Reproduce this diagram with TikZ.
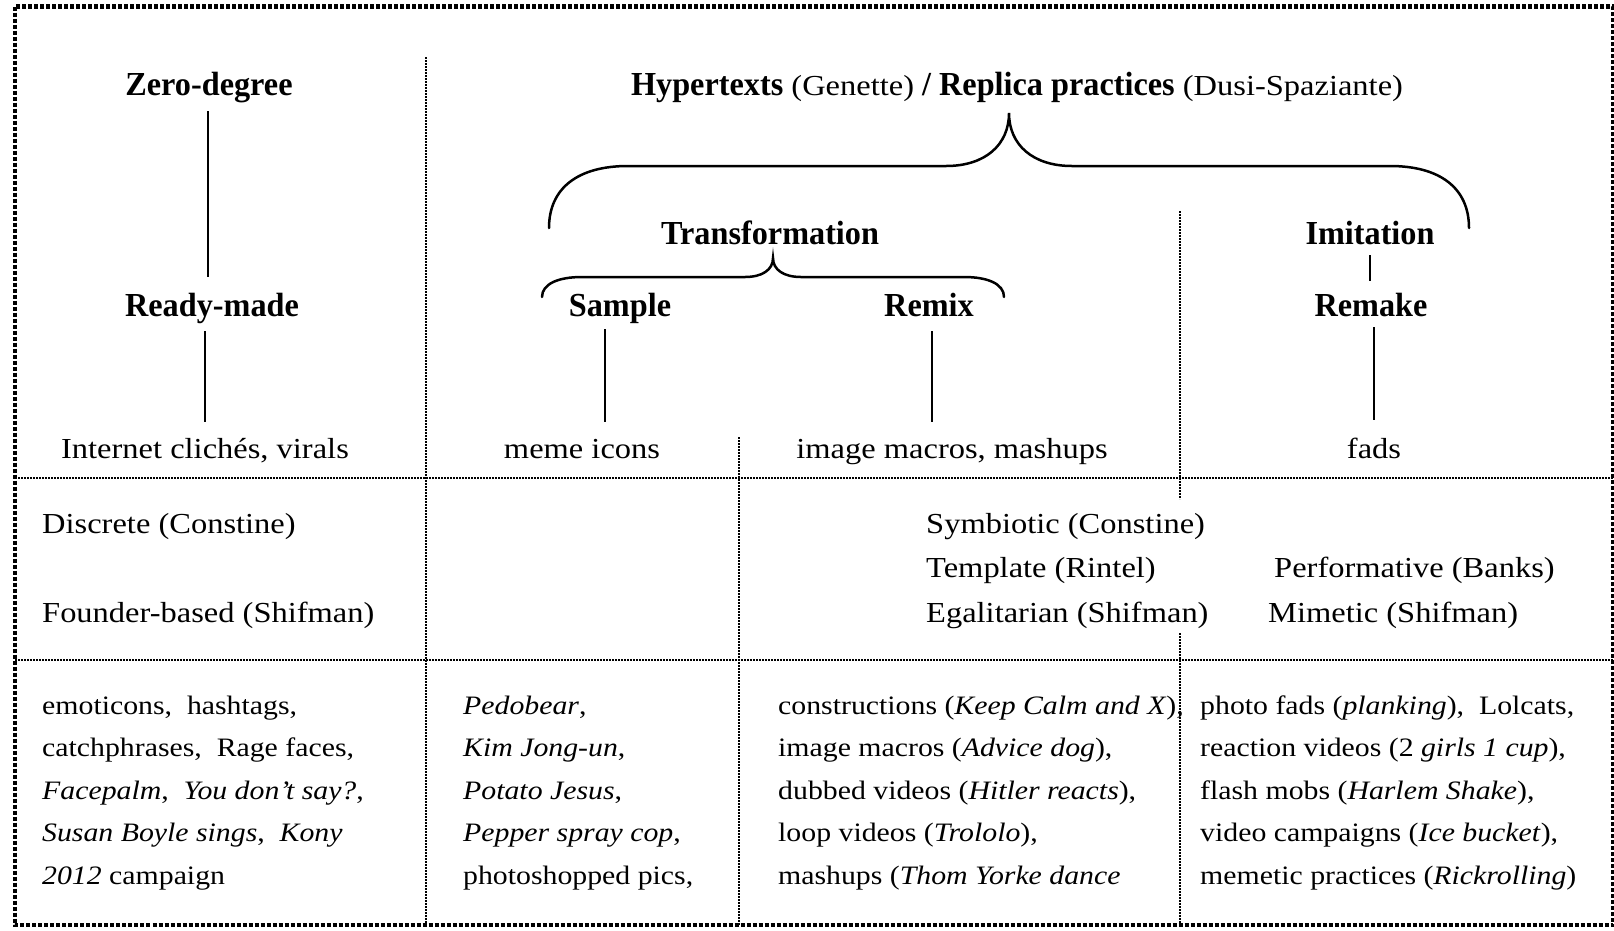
\documentclass[tikz,border=0pt]{standalone}
\usepackage{fontspec}
\setmainfont{Liberation Serif}[FakeStretch=1.12]
\newfontfamily\hdfont{Liberation Serif}[FakeStretch=0.96]
\newcommand\hdb[1]{{\hdfont\bfseries\fontsize{33.6}{40}\selectfont #1}}
\begin{document}
\begin{tikzpicture}[x=1pt,y=-1pt]
\tikzset{
 hd/.style={font=\hdfont\bfseries\fontsize{33.6}{40}\selectfont, inner sep=0pt, text height=24pt, text depth=7pt, anchor=base},
 lbl/.style={font=\fontsize{29}{35}\selectfont, inner sep=0pt, text height=24pt, text depth=7pt, anchor=base},
 lbll/.style={lbl, anchor=base west},
 cell/.style={font=\fontsize{26.6}{32}\selectfont, inner sep=0pt, anchor=base west},
 tree/.style={line width=2.5pt},
 brc/.style={line width=2.5pt, line cap=round},
 frm/.style={line width=4.2pt, dash pattern=on 4pt off 2pt},
 grid/.style={line width=1.8pt, dash pattern=on 2pt off 1pt},
}
\useasboundingbox (0,0) rectangle (1614,930);
\fill[white] (0,0) rectangle (1614,930);

% frame and grid
\draw[frm] (15,6.5) rectangle (1613,925);
\draw[grid] (426,57) -- (426,925);
\draw[grid] (739,437) -- (739,925);
\draw[grid] (1180,211) -- (1180,499);
\draw[grid] (1180,633) -- (1180,925);
\draw[grid] (15,478) -- (1613,478);
\draw[grid] (15,660) -- (1613,660);

% row 1 headings
\node[hd] (zd) at (209,95) {Zero-degree};
\node[lbl] (ht) at (1017,95) {\hdb{Hypertexts} (Genette) \hdb{/ Replica practices} (Dusi-Spaziante)};
\node[hd] (tr) at (770,244) {Transformation};
\node[hd] (imt) at (1370,244) {Imitation};
\node[hd] (rm) at (212,316) {Ready-made};
\node[hd] (sm) at (620,316) {Sample};
\node[hd] (rx) at (929,316) {Remix};
\node[hd] (rk) at (1371,316) {Remake};
\node[lbl] (ic) at (205,458) {Internet clichés, virals};
\node[lbl] (mi) at (582,458) {meme icons};
\node[lbl] (im) at (952,458) {image macros, mashups};
\node[lbl] (fd) at (1374,458) {fads};

% braces
\coordinate (bbl) at (549,228);
\coordinate (bbr) at (1469,228);
\coordinate (sbl) at (542,297);
\coordinate (sbr) at (1004,297);
\draw[brc] (bbl) .. controls (549,188) and (578,166) .. (628,166) -- (946,166)
  .. controls (985,166) and (1009,145) .. (1009,113)
  .. controls (1009,145) and (1033,166) .. (1072,166) -- (1390,166)
  .. controls (1440,166) and (1469,188) .. (bbr);
\draw[brc] (sbl) .. controls (542,284) and (558,277) .. (582,277) -- (745,277)
  .. controls (762,277) and (773,270) .. (773,258)
  .. controls (773,270) and (784,277) .. (801,277) -- (964,277)
  .. controls (988,277) and (1004,284) .. (sbr);

% tree lines
\draw[tree, shorten <=9pt, shorten >=15pt] ([xshift=-1pt]zd.south) -- ([xshift=-1pt]zd.south |- rm.north);
\draw[tree, shorten <=8pt, shorten >=12pt] (ic.north |- rm.south) -- (ic.north);
\draw[tree, shorten <=6pt, shorten >=12pt] ([xshift=-15pt]sm.south) -- ([xshift=-15pt]sm.south |- mi.north);
\draw[tree, shorten <=8pt, shorten >=12pt] ([xshift=3pt]rx.south) -- ([xshift=3pt]rx.south |- im.north);
\draw[tree, shorten <=4pt, shorten >=11pt] (imt.south) -- (imt.south |- rk.north);
\draw[tree, shorten <=4pt, shorten >=14pt] (fd.north |- rk.south) -- (fd.north);

% row 2
\node[lbll] (dc) at (42,533) {Discrete (Constine)};
\node[lbll] (fb) at (42,622) {Founder-based (Shifman)};
\node[lbll] (sy) at (926,533) {Symbiotic (Constine)};
\node[lbll] (tp) at (926,577) {Template (Rintel)};
\node[lbll] (eg) at (926,622) {Egalitarian (Shifman)};
\node[lbll] (pf) at (1274,577) {Performative (Banks)};
\node[lbll] (mm) at (1268,622) {Mimetic (Shifman)};

% row 3
\foreach \t [count=\i] in {{emoticons,\ \ hashtags,},{catchphrases,\ \ Rage faces,},{\textit{Facepalm},\ \ \textit{You don’t say?},},{\textit{Susan Boyle sings},\ \ \textit{Kony}},{\textit{2012} campaign}}
  \node[cell] (a\i) at (42,{714+42.5*(\i-1)}) {\t};
\foreach \t [count=\i] in {{\textit{Pedobear},},{\textit{Kim Jong-un},},{\textit{Potato Jesus},},{\textit{Pepper spray cop},},{photoshopped pics,}}
  \node[cell] (b\i) at (463,{714+42.5*(\i-1)}) {\t};
\foreach \t [count=\i] in {{constructions (\textit{Keep Calm and X}),},{image macros (\textit{Advice dog}),},{dubbed videos (\textit{Hitler reacts}),},{loop videos (\textit{Trololo}),},{mashups (\textit{Thom Yorke dance}}}
  \node[cell] (c\i) at (778,{714+42.5*(\i-1)}) {\t};
\foreach \t [count=\i] in {{photo fads (\textit{planking}),\ \ Lolcats,},{reaction videos (2 \textit{girls 1 cup}),},{flash mobs (\textit{Harlem Shake}),},{video campaigns (\textit{Ice bucket}),},{memetic practices (\textit{Rickrolling})}}
  \node[cell] (d\i) at (1200,{714+42.5*(\i-1)}) {\t};
\end{tikzpicture}
\end{document}
